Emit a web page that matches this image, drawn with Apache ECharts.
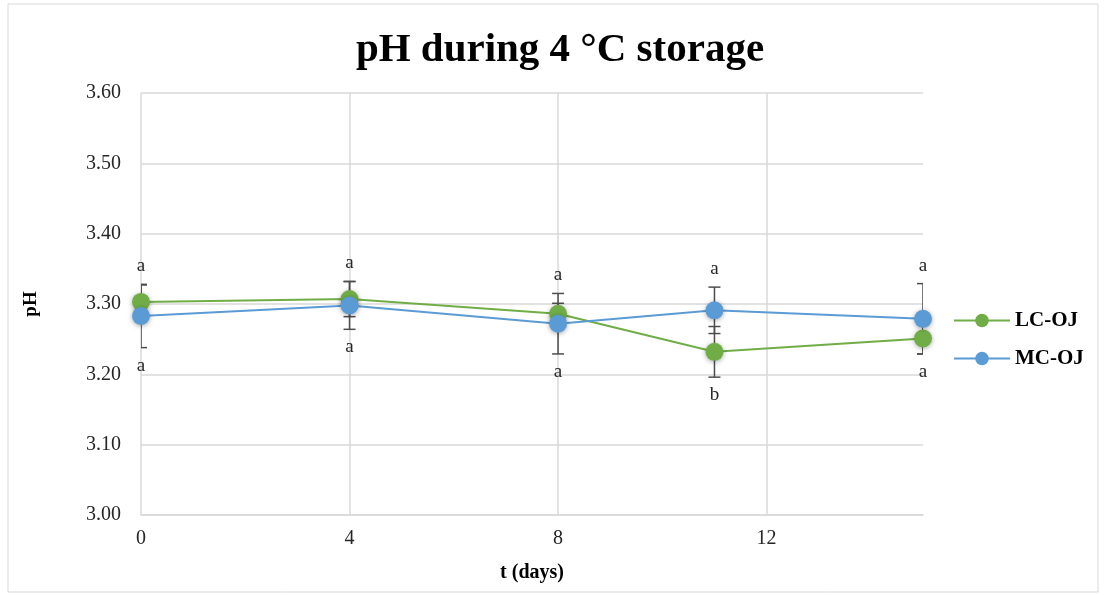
<!DOCTYPE html>
<html><head><meta charset="utf-8">
<script src="https://cdn.jsdelivr.net/npm/echarts@6/dist/echarts.min.js"></script>
<style>html,body{margin:0;padding:0;background:#fff}#c{width:1106px;height:595px}</style>
</head><body><div id="c"></div>
<script>
const days = [0, 4, 8, 11, 15];
const lcOJ = [3.303, 3.307, 3.286, 3.232, 3.251];
const mcOJ = [3.283, 3.298, 3.272, 3.291, 3.279];
const lcErr = [0.024, 0.025, 0.015, 0.036, 0.022];
const mcErr = [0.045, 0.034, 0.043, 0.033, 0.050];
const upperLetters = ['a', 'a', 'a', 'a', 'a'];
const lowerLetters = ['a', 'a', 'a', 'b', 'a'];

const FONT = '"Liberation Serif", "Times New Roman", serif';
const GREEN = '#70ad47', BLUE = '#5b9bd5';

const lineData = (vals) => days.map((d, i) => [d, vals[i]]);
const errData = (vals, errs) => days.map((d, i) => [d, vals[i] - errs[i], vals[i] + errs[i]]);
const letterData = days.map((d, i) => [
  d,
  Math.min(lcOJ[i] - lcErr[i], mcOJ[i] - mcErr[i]),
  Math.max(lcOJ[i] + lcErr[i], mcOJ[i] + mcErr[i]),
  upperLetters[i], lowerLetters[i]
]);

function errItem(params, api) {
  const x = api.value(0), lo = api.value(1), hi = api.value(2);
  const pLo = api.coord([x, lo]), pHi = api.coord([x, hi]);
  const w = 6;
  const style = { stroke: '#4d4d4d', lineWidth: 1.5 };
  return { type: 'group', children: [
    { type: 'line', shape: { x1: pLo[0], y1: pLo[1], x2: pHi[0], y2: pHi[1] }, style },
    { type: 'line', shape: { x1: pLo[0] - w, y1: pLo[1], x2: pLo[0] + w, y2: pLo[1] }, style },
    { type: 'line', shape: { x1: pHi[0] - w, y1: pHi[1], x2: pHi[0] + w, y2: pHi[1] }, style }
  ]};
}
function letterItem(params, api) {
  const i = params.dataIndex;
  const x = api.value(0);
  const pLo = api.coord([x, api.value(1)]), pHi = api.coord([x, api.value(2)]);
  const st = (t) => ({ text: t, font: '19px ' + FONT, fill: '#262626', align: 'center', verticalAlign: 'middle' });
  return { type: 'group', children: [
    { type: 'text', x: pHi[0], y: pHi[1] - 18, style: st(upperLetters[i]) },
    { type: 'text', x: pLo[0], y: pLo[1] + 18, style: st(lowerLetters[i]) }
  ]};
}

const chart = echarts.init(document.getElementById('c'), null, { renderer: 'canvas' });
chart.setOption({
  backgroundColor: '#fff',
  animation: false,
  graphic: [
    { type: 'rect', shape: { x: 8, y: 4, width: 1090, height: 588 }, style: { fill: 'none', stroke: '#d9d9d9', lineWidth: 1 }, z: -1 },
    { type: 'text', x: 560, y: 50, style: { text: 'pH during 4 °C storage', font: 'bold 41px ' + FONT, fill: '#000', align: 'center', verticalAlign: 'middle' } }
  ],
  grid: { left: 141, right: 183, top: 93, bottom: 80 },
  legend: {
    orient: 'vertical', left: 948, top: 305, itemWidth: 56, itemHeight: 17, itemGap: 17,
    data: ['LC-OJ', 'MC-OJ'],
    textStyle: { fontFamily: FONT, fontWeight: 'bold', fontSize: 21, color: '#000' }
  },
  xAxis: {
    type: 'value', min: 0, max: 15, interval: 4,
    name: 't (days)', nameLocation: 'middle', nameGap: 48,
    nameTextStyle: { fontFamily: FONT, fontWeight: 'bold', fontSize: 20, color: '#000' },
    axisLine: { show: true, lineStyle: { color: '#d9d9d9', width: 1.5 } },
    axisTick: { show: false },
    axisLabel: { fontFamily: FONT, fontSize: 20, color: '#262626', margin: 14, showMaxLabel: false },
    splitLine: { show: true, showMaxLine: false, lineStyle: { color: '#d9d9d9', width: 1.5 } }
  },
  yAxis: {
    type: 'value', min: 3.0, max: 3.6, interval: 0.1,
    name: 'pH', nameLocation: 'middle', nameGap: 100,
    nameTextStyle: { fontFamily: FONT, fontWeight: 'bold', fontSize: 19, color: '#000' },
    axisLine: { show: false }, axisTick: { show: false },
    axisLabel: { fontFamily: FONT, fontSize: 20, color: '#262626', margin: 20, formatter: v => v.toFixed(2) },
    splitLine: { show: true, lineStyle: { color: '#d9d9d9', width: 1.5 } }
  },
  series: [
    { type: 'custom', name: 'errLC', renderItem: errItem, data: errData(lcOJ, lcErr), encode: { x: 0, y: [1, 2] }, clip: true, z: 1, silent: true },
    { type: 'custom', name: 'errMC', renderItem: errItem, data: errData(mcOJ, mcErr), encode: { x: 0, y: [1, 2] }, clip: true, z: 1, silent: true },
    { type: 'custom', name: 'letters', renderItem: letterItem, data: letterData, encode: { x: 0, y: [1, 2] }, z: 1, silent: true },
    { type: 'line', name: 'LC-OJ', data: lineData(lcOJ), symbol: 'circle', symbolSize: 18, z: 3,
      lineStyle: { color: GREEN, width: 2 },
      itemStyle: { color: GREEN, shadowBlur: 5, shadowColor: 'rgba(0,0,0,0.35)', shadowOffsetY: 1 } },
    { type: 'line', name: 'MC-OJ', data: lineData(mcOJ), symbol: 'circle', symbolSize: 18, z: 3,
      lineStyle: { color: BLUE, width: 2 },
      itemStyle: { color: BLUE, shadowBlur: 5, shadowColor: 'rgba(0,0,0,0.35)', shadowOffsetY: 1 } }
  ]
});
</script>
</body></html>
